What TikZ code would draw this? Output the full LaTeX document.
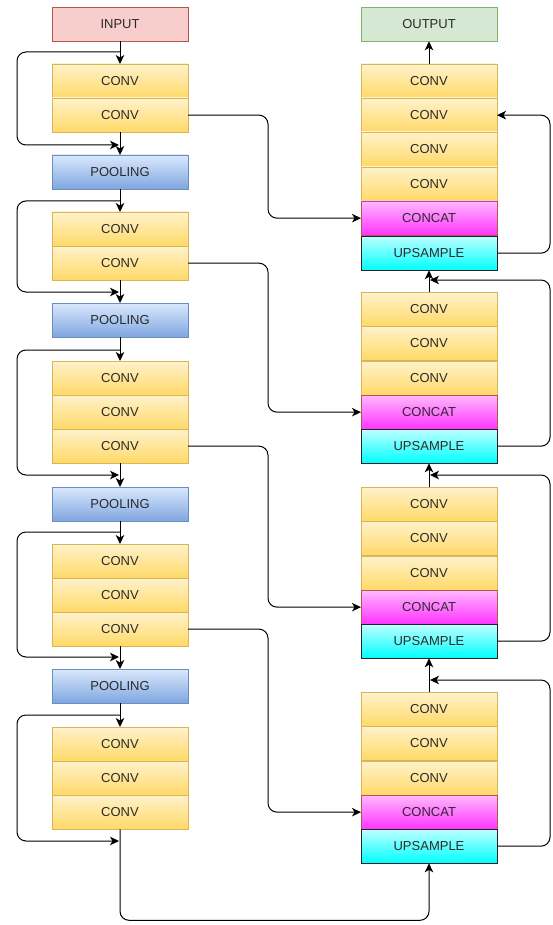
\documentclass[tikz,border=0pt]{standalone}
\usepackage{fontspec}
\setmainfont{Liberation Sans}
\usepackage{xcolor}
\usetikzlibrary{positioning,calc,arrows.meta}
\definecolor{txtGray}{HTML}{2A2A2A}
\definecolor{inFill}{HTML}{F8CECC}
\definecolor{inLine}{HTML}{B85450}
\definecolor{outFill}{HTML}{D5E8D4}
\definecolor{outLine}{HTML}{82B366}
\definecolor{convTop}{HTML}{FFF2CC}
\definecolor{convBot}{HTML}{FFD966}
\definecolor{convLine}{HTML}{D6B656}
\definecolor{poolTop}{HTML}{DAE8FC}
\definecolor{poolBot}{HTML}{7EA6E0}
\definecolor{poolLine}{HTML}{6C8EBF}
\definecolor{catTop}{HTML}{FFB8FF}
\definecolor{catBot}{HTML}{FF33FF}
\definecolor{catLine}{HTML}{B85450}
\definecolor{upTop}{HTML}{BFFFFF}
\definecolor{upBot}{HTML}{00FFFF}
\definecolor{upLine}{HTML}{222222}

\begin{document}
\begin{tikzpicture}[x=1pt,y=-1pt]
        \useasboundingbox (0,0) rectangle (553,925);
        % Styles for the boxes
        \tikzstyle{block} = [
            draw,
            thin,
            minimum width=136pt,
            minimum height=34.3pt,
            font=\fontsize{13}{15}\selectfont,
            text=txtGray,
            anchor=north,
            inner sep=0pt,
            outer sep=0pt
        ]
        \tikzstyle{conv} = [block, draw=convLine, top color=convTop, bottom color=convBot]
        \tikzstyle{pool} = [block, draw=poolLine, top color=poolTop, bottom color=poolBot]
        \tikzstyle{concat} = [block, draw=catLine, top color=catTop, bottom color=catBot]
        \tikzstyle{upsample} = [block, draw=upLine, top color=upTop, bottom color=upBot]
        \tikzstyle{link} = [
            draw=black,
            line width=1pt,
            rounded corners=9pt,
            -{Stealth[length=9pt,width=8.5pt,inset=2.5pt]}
        ]

        % Input and output
        \node[block, draw=inLine, fill=inFill] (in) at (120,7) {INPUT};
        \node[block, draw=outLine, fill=outFill] (out) at (429,7) {OUTPUT};

        % Encoder (left column)
        \foreach \name/\top in {c1a/64, c1b/98, c2a/212, c2b/246, c3a/361, c3b/395, c3c/429,
                                c4a/544, c4b/578, c4c/612, c5a/727, c5b/761, c5c/795} {
            \node[conv] (\name) at (120,\top) {CONV};
        }
        \foreach \name/\top in {p1/155, p2/303, p3/487, p4/669} {
            \node[pool] (\name) at (120,\top) {POOLING};
        }

        % Decoder (right column)
        \foreach \name/\top in {r1a/64, r1b/98, r1c/132, r1d/167, r2a/292, r2b/326, r2c/361,
                                r3a/487, r3b/521, r3c/556, r4a/692, r4b/726, r4c/761} {
            \node[conv] (\name) at (429,\top) {CONV};
        }
        \foreach \name/\top in {k1/201, k2/395, k3/590, k4/795} {
            \node[concat] (\name) at (429,\top) {CONCAT};
        }
        \foreach \name/\top in {u1/236, u2/429, u3/624, u4/829} {
            \node[upsample] (\name) at (429,\top) {UPSAMPLE};
        }

        % Straight arrows
        \foreach \a/\b in {in/c1a, c1b/p1, p1/c2a, c2b/p2, p2/c3a, c3c/p3, p3/c4a, c4c/p4,
                           p4/c5a, r1a/out, r2a/u1, r3a/u2, r4a/u3} {
            \draw[link] (\a) -- (\b);
        }

        % Residual loops on the left
        \foreach \i/\b/\e in {1/52/145, 2/201/292, 3/350/475, 4/532/657, 5/715/841} {
            \coordinate (s\i) at (120,\b);
            \coordinate (t\i) at (119,\e);
            \draw[link] (s\i) -| (17,\e) -- (t\i);
        }

        % Skip connections to CONCAT
        \foreach \a/\b in {c1b/k1, c2b/k2, c3c/k3, c4c/k4} {
            \draw[link] (\a.east) -- ++(80,0) |- (\b.west);
        }
        \draw[link] (c5c.south) -- ++(0,91) -| (u4.south);

        % Loops on the right
        \foreach \u/\y in {u2/280, u3/475, u4/680} {
            \coordinate (a\u) at (430,\y);
            \draw[link] (\u.east) -- ++(53,0) |- (a\u);
        }
        \draw[link] (u1.east) -- ++(53,0) |- (r1b.east);
\end{tikzpicture}
\end{document}
